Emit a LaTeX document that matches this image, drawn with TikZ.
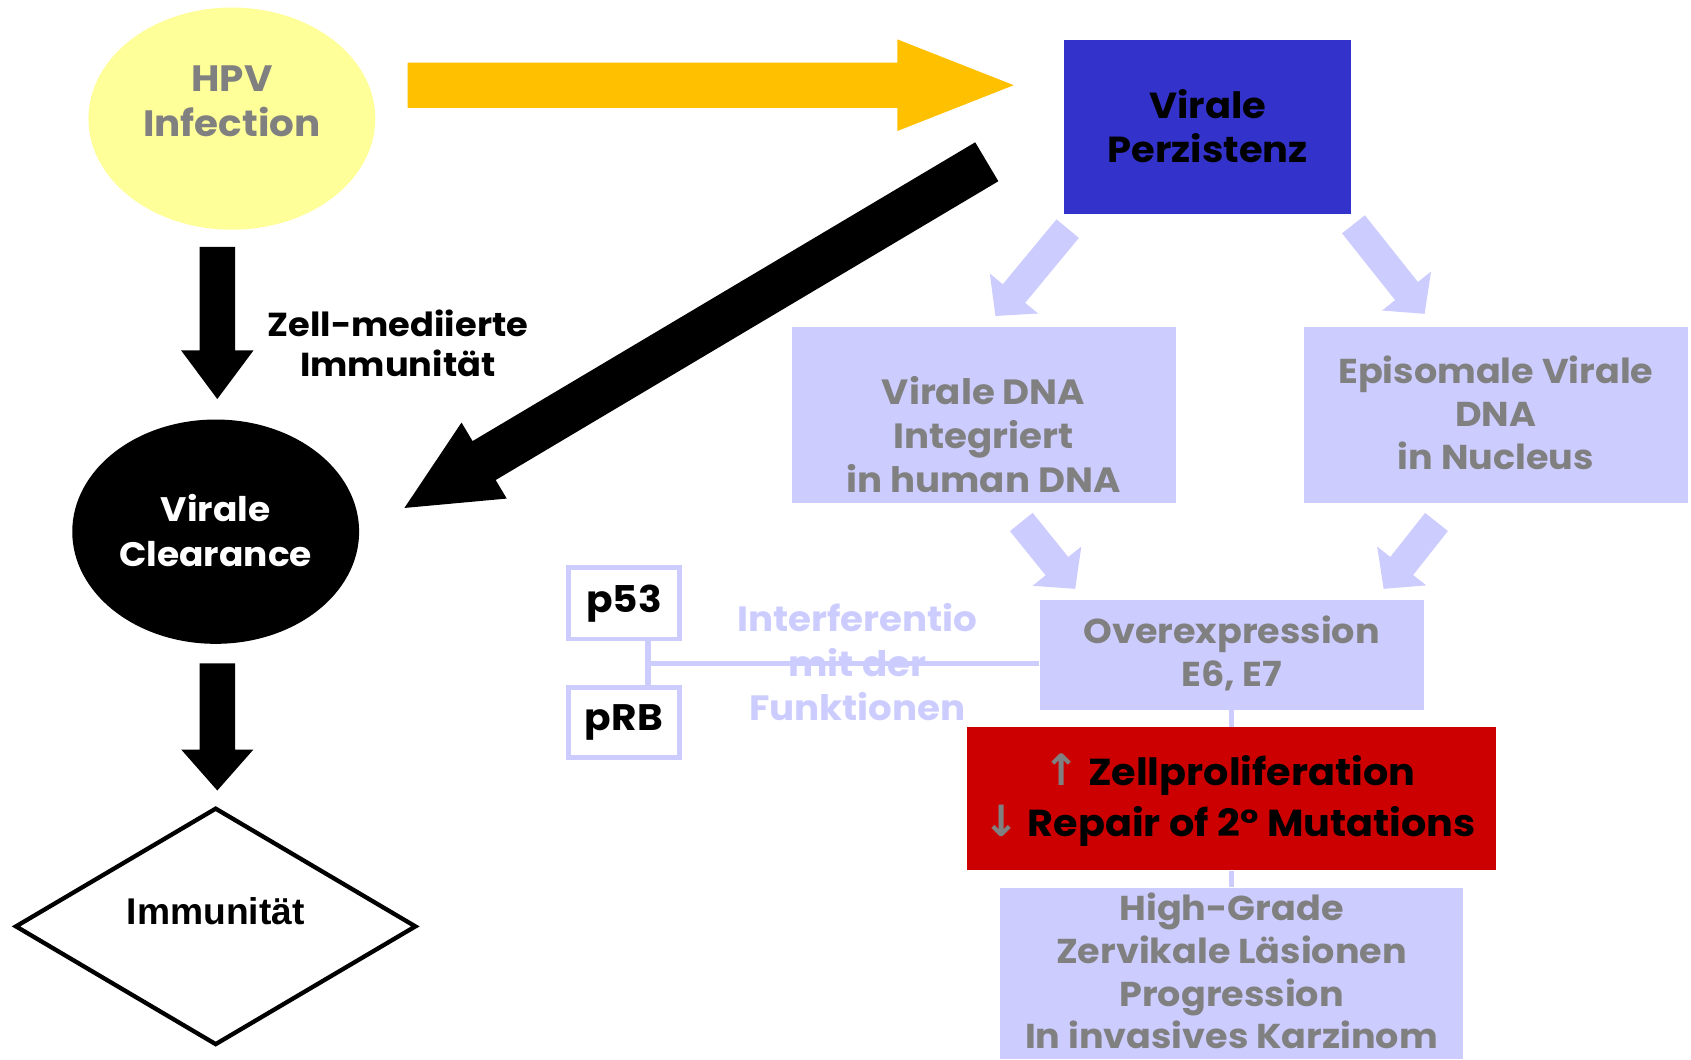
\documentclass[tikz,border=0pt]{standalone}
\usepackage{fontspec}
\setmainfont{Poppins}[FakeStretch=1.06]
\newfontfamily\arialfont{Liberation Sans}
\newfontfamily\symfont{DejaVu Sans}
\usetikzlibrary{shapes.geometric,calc}
\definecolor{lpurple}{HTML}{CCCCFF}
\definecolor{tgray}{HTML}{808080}
\definecolor{hpvyellow}{HTML}{FFFF99}
\definecolor{orangeY}{HTML}{FFC000}
\definecolor{pblue}{HTML}{3333CC}
\definecolor{pred}{HTML}{CC0000}
% block arrow: tail, tip, half shaft, half head, head length, style
\newcommand{\mybarrow}[6]{%
  \path ($(#2)!#5!(#1)$) coordinate (#2b);
  \fill[#6] ($(#1)!#3!90:(#2)$) -- ($(#2b)!#3!90:(#2)$) -- ($(#2b)!#4!90:(#2)$) -- (#2)
    -- ($(#2b)!#4!-90:(#2)$) -- ($(#2b)!#3!-90:(#2)$) -- ($(#1)!#3!-90:(#2)$) -- cycle;
}
\newcommand{\fs}[2]{\bfseries\fontsize{#1}{#2}\selectfont}
\begin{document}
\begin{tikzpicture}[x=1pt,y=-1pt,
  ctxt/.style={font=\fs{32}{40}, align=center, inner sep=0pt},
  lbox/.style={rectangle, fill=lpurple, inner sep=0pt},
  pbox/.style={rectangle, draw=lpurple, line width=4.6pt, fill=white, inner sep=0pt, minimum width=102.4pt, minimum height=66pt},
  conn/.style={draw=lpurple, line width=5pt}]
\useasboundingbox (0,0) rectangle (1568,982);
\fill[white] (0,0) rectangle (1568,982);

% shapes
\node[ellipse, fill=hpvyellow, minimum width=266pt, minimum height=206pt, inner sep=0pt] (hpv) at (215,110) {};
\node[ellipse, fill=black, minimum width=266pt, minimum height=208pt, inner sep=0pt] (clear) at (200,493) {};
\node[diamond, draw=black, line width=4pt, fill=white, aspect=1.68, minimum width=372pt, minimum height=220pt, inner sep=0pt] (immu) at (200,859) {};
\node[rectangle, fill=pblue, minimum width=266pt, minimum height=161pt, inner sep=0pt] (pers) at (1120,117.5) {};
\node[lbox, minimum width=356pt, minimum height=163pt] (integ) at (912,384.5) {};
\node[lbox, minimum width=356pt, minimum height=163pt] (episo) at (1387,384.5) {};
\node[lbox, minimum width=356pt, minimum height=102pt] (over) at (1142,607) {};
\node[rectangle, fill=pred, minimum width=490pt, minimum height=133pt, inner sep=0pt] (prolif) at (1142,740.5) {};
\node[lbox, minimum width=430pt, minimum height=159pt] (high) at (1142,902.5) {};
\node[pbox] (p53) at (578.5,559.5) {};
\node[pbox, minimum height=65pt] (prb) at (578.5,670) {};

% connectors (lines)
\coordinate (vj) at (601,615);
\draw[conn] (p53.south -| vj) -- (prb.north -| vj);
\draw[conn] (vj) -- (vj -| over.west);
\draw[conn] (over.south) -- (prolif.north);
\draw[conn] (prolif.south) -- (high.north);

% block arrows
\coordinate (yT) at (378,79); \coordinate (yH) at (940,79);
\mybarrow{yT}{yH}{21pt}{42.5pt}{108pt}{orangeY}
\coordinate (d1T) at (201.5,229); \coordinate (d1H) at (201.5,370);
\mybarrow{d1T}{d1H}{16.5pt}{33.5pt}{45pt}{black}
\coordinate (d2T) at (201.5,615); \coordinate (d2H) at (201.5,733);
\mybarrow{d2T}{d2H}{16.5pt}{33.5pt}{38pt}{black}
\coordinate (bT) at (915,150); \coordinate (bH) at (375,471);
\mybarrow{bT}{bH}{21pt}{41pt}{86pt}{black}
\coordinate (a1T) at (990,212); \coordinate (a1H) at (923,293);
\mybarrow{a1T}{a1H}{13.5pt}{29pt}{27pt}{lpurple}
\coordinate (a2T) at (1255,208); \coordinate (a2H) at (1321,291);
\mybarrow{a2T}{a2H}{13.5pt}{29pt}{27pt}{lpurple}
\coordinate (a3T) at (947,484); \coordinate (a3H) at (997,546);
\mybarrow{a3T}{a3H}{13.5pt}{29pt}{27pt}{lpurple}
\coordinate (a4T) at (1332,484); \coordinate (a4H) at (1283,546);
\mybarrow{a4T}{a4H}{13.5pt}{29pt}{27pt}{lpurple}

% texts
\node[ctxt, text=tgray, font=\fs{34}{42}] (hpvt) at (215,94) {HPV\\Infection};
\node[ctxt, font=\fs{33.6}{40}] (perst) at (1120,117) {Virale\\Perzistenz};
\node[ctxt, font=\fs{30.8}{37}] (zellt) at (369,318) {Zell-mediierte\\Immunität};
\node[ctxt, text=white, font=\fs{31.5}{41}] (cleart) at (200,492) {Virale\\Clearance};
\node[inner sep=0pt, font=\arialfont\bfseries\fontsize{34.5}{40}\selectfont] (immut) at (200,845) {Immunität};
\node[ctxt, font=\fs{32.5}{40.5}, text=tgray] (integt) at (912,403) {Virale DNA\\Integriert\\in human DNA};
\node[ctxt, text=tgray] (episot) at (1387,383) {Episomale Virale\\DNA\\in Nucleus};
\node[ctxt, text=tgray] (overt) at (1142,606) {Overexpression\\E6, E7};
\node[ctxt, font=\fs{34.8}{47}] (prolift) at (1140,742) {{\symfont\fontsize{40}{47}\selectfont\color{tgray}↑} Zellproliferation\\{\symfont\fontsize{40}{47}\selectfont\color{tgray}↓} Repair of 2° Mutations};
\node[ctxt, text=tgray, font=\fs{32}{39.5}] (hight) at (1142,900.5) {High-Grade\\Zervikale Läsionen\\Progression\\In invasives Karzinom};
\node[ctxt, font=\fs{34.2}{40}] (p53t) at (p53) {p53};
\node[ctxt, font=\fs{34.2}{40}] (prbt) at (prb) {pRB};
\node[ctxt, text=lpurple, font=\fs{32.6}{41}] (intt) at (795,614) {Interferentio\\mit der\\Funktionen};
\end{tikzpicture}
\end{document}
